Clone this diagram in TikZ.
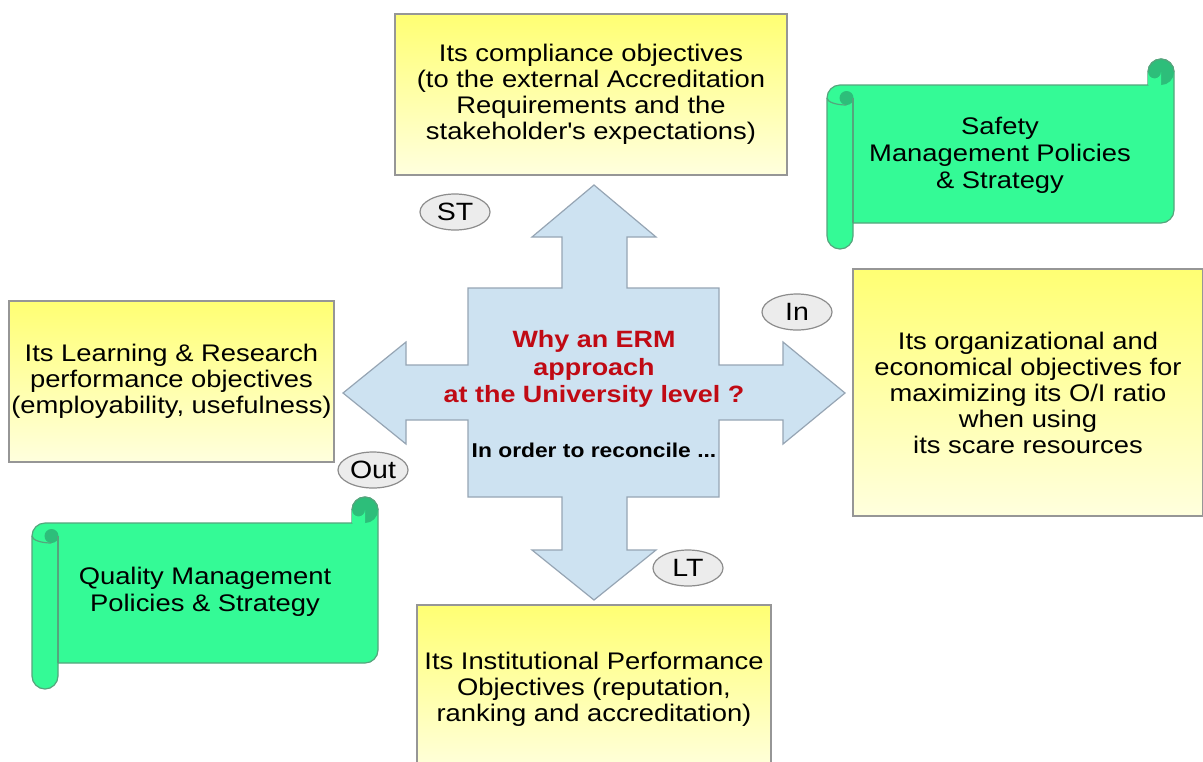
\documentclass[tikz,border=0pt]{standalone}
\usepackage{fontspec}
\setmainfont{Liberation Sans}[FakeStretch=1.14]
\usetikzlibrary{shapes.geometric}

\definecolor{boxedge}{RGB}{150,150,150}
\definecolor{boxtop}{RGB}{255,255,115}
\definecolor{boxbottom}{RGB}{255,255,222}
\definecolor{scrollfill}{RGB}{52,250,150}
\definecolor{scrolldark}{RGB}{45,190,122}
\definecolor{scrolledge}{RGB}{85,165,125}
\definecolor{crossfill}{RGB}{205,226,241}
\definecolor{crossedge}{RGB}{150,165,180}
\definecolor{tagfill}{RGB}{236,236,236}
\definecolor{tagedge}{RGB}{140,140,140}
\definecolor{whyred}{RGB}{192,10,20}

% scroll banner: left, top, right, bottom of the paper (px)
\newcommand{\scrollshape}[4]{%
  \draw[scrolledge, fill=scrollfill, line width=0.6pt]
    (#1,#2+13) arc[start angle=180, end angle=90, radius=6.5pt]
    -- (#3-26,#2) -- (#3-26,#2-13) arc[start angle=180, end angle=0, radius=6.5pt]
    -- (#3,#4-13) arc[start angle=0, end angle=-90, radius=6.5pt]
    -- (#1+26,#4) -- (#1+26,#4+13) arc[start angle=0, end angle=-180, radius=6.5pt]
    -- cycle;
  \fill[scrolldark] (#3-13,#2-13) circle[radius=6.5pt];
  \fill[scrollfill] (#3-26,#2) -- (#3-26,#2-13) arc[start angle=180, end angle=360, radius=3.25pt]
    -- (#3-13,#2) -- cycle;
  \draw[scrolledge, line width=0.6pt] (#3-26,#2-13) arc[start angle=180, end angle=0, radius=6.5pt];
  \fill[scrolldark] (#1+19.5,#2+13) circle[radius=3.5pt];
  \draw[scrolledge, line width=0.6pt] (#1,#2+13) arc[start angle=180, end angle=270, x radius=9.75pt, y radius=3.5pt];
  \draw[scrolledge, line width=0.6pt] (#1+26,#2+13) -- (#1+26,#4);
}

\begin{document}
\begin{tikzpicture}[x=0.5pt,y=-0.5pt,
  goalbox/.style={draw=boxedge, line width=0.6pt, top color=boxtop, bottom color=boxbottom,
    align=center, inner sep=0pt, font=\fontsize{12}{13}\selectfont},
  scrolltext/.style={align=center, font=\fontsize{12}{13.5}\selectfont},
  tag/.style={ellipse, draw=tagedge, fill=tagfill, line width=0.6pt, minimum width=35pt,
    minimum height=18pt, inner sep=0pt, font=\fontsize{12.5}{13}\selectfont},
  whytext/.style={align=center, text=whyred, font=\fontsize{11.8}{13.75}\selectfont\bfseries},
  reconcile/.style={font=\fontsize{10}{12}\selectfont\bfseries}]
\useasboundingbox (0,0) rectangle (1203,761);
\fill[white] (0,0) rectangle (1203,761);
\clip (0,0) rectangle (1203,761);

% the four-way arrow
\draw[crossedge, fill=crossfill, line width=0.6pt]
  (594,185) -- (656,237) -- (627,237) -- (627,288) -- (719,288) -- (719,365)
  -- (783,365) -- (783,342) -- (845,393) -- (783,444) -- (783,420) -- (719,420)
  -- (719,497) -- (627,497) -- (627,550) -- (656,550) -- (594,600) -- (532,550)
  -- (562,550) -- (562,497) -- (468,497) -- (468,420) -- (406,420) -- (406,444)
  -- (343,393) -- (406,342) -- (406,365) -- (468,365) -- (468,288) -- (562,288)
  -- (562,237) -- (532,237) -- cycle;
\node[whytext] (why) at (594,369) {Why an ERM\\approach\\at the University level ?};
\node[reconcile, anchor=base] (reconc) at (594,457) {In order to reconcile ...};

% objectives
\node[goalbox, minimum width=196pt, minimum height=80.5pt] (compl) at (591,94.5)
  {Its compliance objectives\\(to the external Accreditation\\Requirements and the\\stakeholder\textquotesingle s expectations)};
\node[goalbox, minimum width=162.5pt, minimum height=80.5pt] (learn) at (171.5,381.5)
  {Its Learning \& Research\\performance objectives\\(employability, usefulness)};
\node[goalbox, minimum width=175pt, minimum height=123.5pt] (econ) at (1028,392.5)
  {Its organizational and\\economical objectives for\\maximizing its O/I ratio\\when using\\its scare resources};
\node[goalbox, minimum width=177pt, minimum height=84pt] (inst) at (594,689)
  {Its Institutional Performance\\Objectives (reputation,\\ranking and accreditation)};

% policies
\scrollshape{827}{85}{1174}{223}
\node[scrolltext] (safety) at (1000,155) {Safety\\Management Policies\\\& Strategy};
\scrollshape{32}{523}{378}{663}
\node[scrolltext] (quality) at (205,592) {Quality Management\\Policies \& Strategy};

% horizon tags
\node[tag] (st) at (455,212) {ST};
\node[tag] (in) at (797,312) {In};
\node[tag] (out) at (373,470) {Out};
\node[tag] (lt) at (688,568) {LT};
\end{tikzpicture}
\end{document}
